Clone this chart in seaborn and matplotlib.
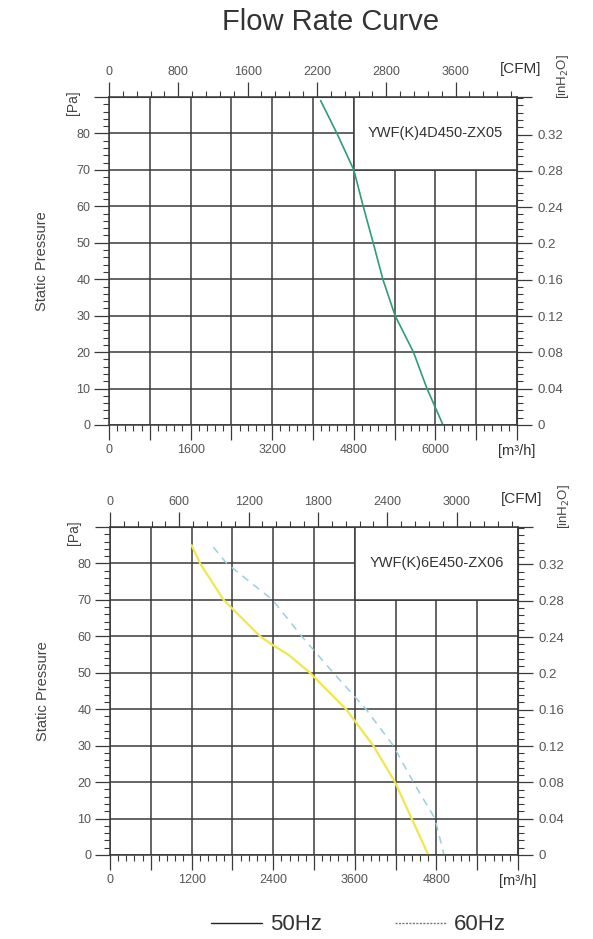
import numpy as np
import pandas as pd
import seaborn as sns
import matplotlib.pyplot as plt
from matplotlib.lines import Line2D
from matplotlib.patches import Rectangle
from matplotlib.ticker import MultipleLocator

# curve points: flow [m3/h] and static pressure [Pa]
flow_4d = [4150, 4470, 4800, 4985, 5180, 5370, 5610, 5790, 5970, 6235, 6550]
pres_4d = [89, 80, 70, 60, 50, 40, 30, 25, 20, 10, 0]

flow_6e_50 = [1200, 1325, 1670, 2206, 2402, 2620, 2941, 3471, 3872, 4191, 4437, 4681]
pres_6e_50 = [85, 80, 70, 60, 57.5, 55, 50, 40, 30, 20, 10, 0]

flow_6e_60 = [1519, 1716, 2390, 2819, 3284, 3765, 4166, 4460, 4779, 4912]
pres_6e_60 = [84.5, 80, 70, 60, 50, 40, 30, 20, 10, 0]

# tick labels as printed on the sheet
top_flow_labels = ['0', '', '1600', '', '3200', '', '4800', '', '6000', '', '']
top_cfm_labels = ['0', '800', '1600', '2200', '2800', '3600']
bot_flow_labels = ['0', '', '1200', '', '2400', '', '3600', '', '4800', '', '']
bot_cfm_labels = ['0', '600', '1200', '1800', '2400', '3000']
pa_labels = ['0', '10', '20', '30', '40', '50', '60', '70', '80', '']
inh2o_ticks = [0, 0.04, 0.08, 0.12, 0.16, 0.2, 0.24, 0.28, 0.32]

M3H_PER_CFM = 1.699
PA_PER_INH2O = 249.09

sns.set_style('ticks')
plt.rcParams['font.family'] = ['Liberation Sans', 'DejaVu Sans']

GRID = '#3a3a3a'
TXT = '#555555'


def setup(ax, xmax, xstep, flow_labels, cfm_step, cfm_labels, box_x, model):
    ax.set_xlim(0, xmax)
    ax.set_ylim(0, 90)
    ax.set_xticks(np.arange(0, xmax + 1, xstep), labels=flow_labels)
    ax.xaxis.set_minor_locator(MultipleLocator(xstep / 5))
    ax.set_yticks(np.arange(0, 91, 10), labels=pa_labels)
    ax.yaxis.set_minor_locator(MultipleLocator(2))
    ax.grid(True, which='major', color=GRID, lw=1.1)
    ax.set_axisbelow(True)
    for s in ax.spines.values():
        s.set_color(GRID)
        s.set_linewidth(1.1)
    ax.tick_params(which='major', direction='out', length=10.5, width=0.9,
                   color=GRID, labelcolor=TXT, labelsize=9, pad=3)
    ax.tick_params(which='minor', direction='out', length=4.5, width=0.8,
                   color=GRID)

    # CFM scale on top
    sec = ax.secondary_xaxis('top', functions=(lambda x: x / M3H_PER_CFM,
                                               lambda c: c * M3H_PER_CFM))
    sec.set_xticks(np.arange(0, cfm_step * 5 + 1, cfm_step), labels=cfm_labels)
    sec.xaxis.set_minor_locator(MultipleLocator(cfm_step / 5))
    sec.tick_params(which='major', direction='out', length=10.5, width=0.9,
                    color=GRID, labelcolor=TXT, labelsize=9, pad=3)
    sec.tick_params(which='minor', direction='out', length=4.5, width=0.8,
                    color=GRID)
    sec.spines['top'].set_color(GRID)

    # inH2O scale on the right
    secy = ax.secondary_yaxis('right', functions=(lambda p: p / PA_PER_INH2O,
                                                  lambda i: i * PA_PER_INH2O))
    secy.set_yticks(inh2o_ticks + [90 / PA_PER_INH2O],
                    labels=[f'{v:g}' for v in inh2o_ticks] + [''])
    secy.yaxis.set_minor_locator(MultipleLocator(0.008))
    secy.tick_params(which='major', direction='out', length=10.5, width=0.9,
                     color=GRID, labelcolor=TXT, labelsize=9.5, pad=4)
    secy.tick_params(which='minor', direction='out', length=4.5, width=0.8,
                     color=GRID)
    secy.spines['right'].set_color(GRID)

    # white model box in the upper right corner
    ax.add_patch(Rectangle((box_x, 70), xmax - box_x, 20, facecolor='white',
                           edgecolor=GRID, lw=1.1, zorder=1))
    ax.text((box_x + xmax) / 2, 80, model, ha='center', va='center',
            fontsize=10.5, color='#333333', zorder=3)

    ax.set_ylabel('Static Pressure', fontsize=10.5, color='#444444')
    ax.yaxis.set_label_coords(-0.148, 0.5)
    ax.text(-0.088, 88.5, '[Pa]', transform=ax.get_yaxis_transform(),
            rotation=90, ha='center', va='center', fontsize=10, color='#444444')
    ax.text(1.112, 95.5, '[inH$_2$O]', transform=ax.get_yaxis_transform(),
            rotation=90, ha='center', va='center', fontsize=9.5,
            color='#444444', clip_on=False)
    ax.text(1.01, 1.085, '[CFM]', transform=ax.transAxes, ha='center',
            va='center', fontsize=11, color='#333333')
    ax.text(1.0, -0.078, '[m³/h]', transform=ax.transAxes, ha='center',
            va='center', fontsize=10.5, color='#333333')


fig = plt.figure(figsize=(5.93, 9.39), dpi=100)
ax1 = fig.add_axes([0.1838, 0.5474, 0.688, 0.3493])
ax2 = fig.add_axes([0.1855, 0.0895, 0.688, 0.3493])

setup(ax1, 8000, 800, top_flow_labels, 800, top_cfm_labels, 4800,
      'YWF(K)4D450-ZX05')
setup(ax2, 6000, 600, bot_flow_labels, 600, bot_cfm_labels, 3600,
      'YWF(K)6E450-ZX06')

df_4d = pd.DataFrame({'flow': flow_4d, 'pressure': pres_4d})
df_50 = pd.DataFrame({'flow': flow_6e_50, 'pressure': pres_6e_50})
df_60 = pd.DataFrame({'flow': flow_6e_60, 'pressure': pres_6e_60})

sns.lineplot(data=df_4d, x='flow', y='pressure', ax=ax1, sort=False,
             estimator=None, color='#2e9e72', lw=1.2, zorder=2)
sns.lineplot(data=df_50, x='flow', y='pressure', ax=ax2, sort=False,
             estimator=None, color='#f0e64e', lw=1.6, zorder=2)
sns.lineplot(data=df_60, x='flow', y='pressure', ax=ax2, sort=False,
             estimator=None, color='#9ccfdc', lw=1.1, ls=(0, (5, 4)), zorder=2)
for ax in (ax1, ax2):
    ax.set_xlabel('')

fig.text(0.558, 0.9766, 'Flow Rate Curve', ha='center', va='center',
         fontsize=21, color='#333333')

handles = [Line2D([], [], color='#222222', lw=1.0),
           Line2D([], [], color='#777777', lw=1.0, ls=(0, (1.5, 1)))]
fig.legend(handles, ['50Hz', '60Hz'], loc='center', bbox_to_anchor=(0.605, 0.015),
           ncol=2, frameon=False, fontsize=16, handlelength=2.3,
           handletextpad=0.35, columnspacing=3.3, labelcolor='#333333')

fig.savefig('out.png', dpi=100)
